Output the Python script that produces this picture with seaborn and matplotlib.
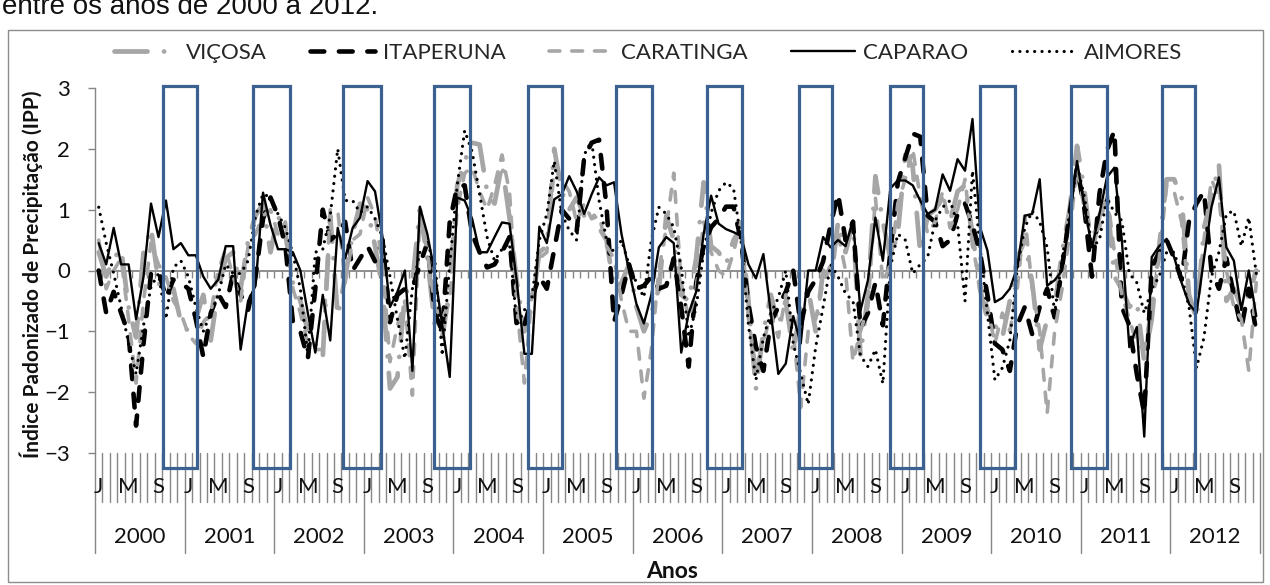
import numpy as np
import pandas as pd
import matplotlib
matplotlib.use("Agg")
import matplotlib.pyplot as plt
import matplotlib.patches as mpatches
import matplotlib.transforms as mtransforms
from matplotlib.lines import Line2D
import seaborn as sns

# ── Dados (IPP mensal, 2000-2012) ─────────────────────────────────────────────
ANOS = list(range(2000, 2013))
MES_ROTULOS = ["J", "", "", "", "M", "", "", "", "S", "", "", ""]
ESTACOES = ["VIÇOSA", "ITAPERUNA", "CARATINGA", "CAPARAO", "AIMORES"]

VICOSA = [
    0.30, -0.10, 0.20, 0.35, -0.60, -1.10, 0.30, 0.70, -0.20, -0.40, -0.30, -0.85,
    -1.00, -0.80, -0.40, -1.15, -0.30, 0.20, 0.30, -0.30, 0.50, 0.90, 1.10, 0.30,
    0.90, 0.60, -0.20, -0.50, -1.00, -1.20, -1.42, 0.90, -0.75, -0.10, 0.60, 1.10,
    1.00, 0.40, -0.30, -1.94, -1.75, -0.40, -0.20, 1.00, 0.20, -0.90, -1.10, -0.30,
    1.40, 1.80, 2.10, 2.07, 1.30, 1.10, 1.75, 0.87, -0.20, -1.00, -0.60, 0.30,
    0.40, 2.00, 1.30, 1.00, 1.20, 0.90, 1.00, 0.70, 0.50, -0.30, -0.20, 0.10,
    -0.60, -1.00, -0.70, -0.30, 0.90, 0.50, -0.40, -0.50, 0.20, 1.45, 0.40, 0.30,
    0.10, 0.50, 0.70, -0.50, -1.95, -1.00, -0.40, -0.90, -0.50, -1.35, -0.60, -0.30,
    -1.00, 0.00, -0.20, 0.80, 0.30, 0.80, -1.40, -0.40, 1.55, 0.80, 0.20, 0.60,
    1.90, 1.70, 0.30, 0.90, 1.00, 1.20, 0.80, 1.30, 1.40, 0.60, -0.30, -0.80,
    -0.90, -1.10, -0.50, 0.20, 0.50, -0.20, -1.30, -0.80, -0.60, 0.30, 1.00, 2.05,
    1.30, 0.30, 0.90, 1.20, -0.10, -0.30, -0.60, -0.50, -1.50, -0.80, 0.40, 1.50,
    1.50, 1.20, -0.40, -0.80, 0.70, 1.20, 1.75, -0.50, -0.30, -0.60, -0.40, 0.00,
]
ITAPERUNA = [
    0.00, -0.70, -0.35, -0.70, -1.05, -2.55, -1.20, -0.05, 0.00, -0.45, -0.15, -0.20,
    -0.30, -0.80, -1.42, -0.70, -0.38, -0.60, -0.05, -0.40, -0.65, -0.10, 0.85, 1.20,
    0.90, 0.40, -0.85, -1.00, -1.45, -0.30, 1.00, 0.50, 0.60, 0.80, 0.00, 0.20,
    0.40, 0.15, 0.50, -0.85, -0.40, -0.30, -0.30, 0.10, 0.45, -0.70, -1.00, 0.80,
    1.38, 1.40, 0.60, 0.30, 0.05, 0.10, 0.30, 0.55, -0.95, -0.90, -0.45, -0.10,
    -0.30, 0.35, 1.00, 0.85, 0.65, 1.85, 2.10, 2.15, 1.05, -0.85, -0.40, 0.10,
    -0.30, -0.25, -0.10, -0.30, -0.25, 0.20, -0.60, -1.58, -0.20, 0.40, 0.71, 0.85,
    1.05, 1.05, 0.50, -0.55, -1.25, -1.65, -0.85, -0.60, -0.35, 0.00, -0.90, -0.35,
    -0.15, 0.15, 0.75, 1.26, 0.50, 0.80, -0.95, -0.70, -0.20, -0.90, 0.30, 1.45,
    1.85, 2.25, 2.20, 0.90, 0.80, 0.40, 0.50, 0.93, 1.10, 0.75, 0.30, -0.40,
    -1.20, -1.30, -1.65, -0.90, -0.60, -1.05, -0.60, -0.30, -0.77, 0.05, 0.93, 1.69,
    1.00, -0.10, 1.26, 1.97, 2.30, -0.60, -0.90, -1.70, -2.35, 0.05, 0.30, 0.50,
    0.20, -0.15, 0.82, 1.10, 1.30, 0.00, -0.30, 0.20, -0.40, -0.95, -0.30, -1.00,
]
CARATINGA = [
    0.50, -0.30, 0.00, 0.20, -0.80, -1.85, -0.50, 0.45, 0.10, -0.10, -0.50, -0.70,
    -1.05, -1.20, -0.85, -0.70, 0.00, 0.35, -0.10, -0.50, 0.40, 0.60, 0.90, 1.00,
    0.60, 0.80, -0.30, -0.70, -1.20, -1.30, -1.30, 1.00, 1.00, -0.20, 0.50, 0.60,
    1.20, 0.90, 0.10, -1.50, -0.90, -0.50, -2.05, 0.90, 0.30, -0.60, -0.80, -0.50,
    1.00, 1.60, 1.70, 1.30, 1.00, 1.40, 1.90, 1.30, -0.60, -1.85, -0.40, 0.20,
    0.30, 1.70, 1.50, 1.30, 0.80, 1.10, 0.85, 0.90, 0.40, 0.20, -0.50, -1.00,
    -1.00, -2.10, -1.30, 0.00, 0.70, 1.60, -0.20, -0.80, -0.30, 0.80, 0.30, 0.00,
    -0.10, 0.30, 0.80, -0.80, -1.60, -1.20, -0.70, -1.10, -0.40, -1.00, -2.25, -1.00,
    -0.80, -0.20, 0.10, 0.60, 0.00, -1.50, -1.00, -0.60, 1.20, -0.20, 0.10, 1.10,
    1.50, 2.00, 1.20, 0.60, 0.80, 1.30, 0.70, 1.00, 1.50, 0.40, -0.20, -0.60,
    -1.20, -0.70, -1.00, -0.30, 0.90, -0.30, -1.00, -2.35, -1.00, -0.30, 0.60, 1.70,
    1.00, 0.60, 0.70, 1.30, 0.30, -0.40, -0.80, -1.20, -1.30, -0.60, 0.20, 1.40,
    1.30, 0.80, -0.50, -0.60, 0.50, 1.50, 1.20, 0.00, -0.60, -0.80, -1.65, -0.20,
]
CAPARAO = [
    0.45, 0.10, 0.70, 0.10, 0.10, -0.80, -0.10, 1.10, 0.55, 1.15, 0.35, 0.45,
    0.25, 0.25, -0.10, -0.30, -0.15, 0.40, 0.40, -1.30, -0.50, -0.25, 1.28, 0.75,
    0.35, 0.35, 0.30, 0.00, -0.70, -1.35, -0.40, -1.15, 0.70, 0.20, 0.70, 0.87,
    1.47, 1.30, 0.55, -0.60, -0.35, 0.00, -1.65, 1.05, 0.60, -0.05, -0.90, -1.75,
    1.20, 1.15, 0.85, 0.30, 0.30, 0.55, 0.79, 0.77, -0.20, -1.37, -1.37, 0.72,
    0.45, 1.17, 1.25, 1.55, 1.30, 0.93, 1.25, 1.53, 1.40, 1.45, 0.60, 0.00,
    -0.55, -0.87, -0.40, 0.38, 0.55, 0.45, -1.35, -0.70, -0.35, 0.60, 1.23, 0.77,
    0.68, 0.63, 0.57, 0.10, -0.13, 0.27, -0.70, -1.70, -1.53, -0.75, -1.20, 0.00,
    0.00, 0.55, 0.38, 0.50, 0.40, 0.82, -0.66, -0.16, 0.87, 0.16, 1.35, 1.48,
    1.48, 1.40, 1.15, 0.93, 1.00, 1.58, 1.31, 1.83, 1.64, 2.49, 0.71, 0.33,
    -0.52, -0.45, -0.30, 0.05, 0.90, 0.93, 1.50, -0.25, -0.16, 0.00, 0.82, 1.80,
    1.04, 0.38, 0.93, 1.53, 1.69, 0.50, -1.26, -0.93, -2.73, 0.22, 0.40, 0.52,
    0.22, -0.20, -0.55, -0.70, 0.20, 1.04, 1.53, 0.38, 0.16, -0.65, 0.00, -0.75,
]
AIMORES = [
    1.04, 0.45, -0.05, -0.60, -1.20, -1.70, -0.90, -0.27, -0.05, -0.80, 0.05, 0.16,
    -0.10, -0.60, -1.00, -0.70, -0.40, 0.10, -0.05, -0.05, 0.16, 0.90, 1.26, 1.20,
    0.93, 0.70, 0.27, -0.30, -1.40, 0.30, 0.35, 0.90, 2.00, 1.15, 1.15, 0.95,
    1.05, 0.85, 0.55, -0.10, -0.80, -1.45, -0.30, 0.30, 0.40, 0.20, -1.40, 0.10,
    1.40, 2.30, 1.95, 1.26, 0.55, 0.16, 0.35, 0.45, -0.90, -0.65, -0.44, 0.50,
    0.93, 1.80, 0.93, 0.66, 0.50, 1.90, 2.13, 1.15, 0.50, 0.30, 0.50, 0.10,
    -0.20, -0.44, 0.50, 1.04, 0.93, 0.71, 0.05, -1.10, -0.60, 0.30, 0.95, 1.31,
    1.45, 1.35, 0.50, -0.90, -1.80, -1.10, -0.70, -0.45, 0.00, -1.20, -1.70, -2.20,
    -1.26, -0.60, 0.10, -0.10, -0.38, -0.50, -1.40, -1.58, -1.30, -1.86, 0.05, 0.60,
    0.50, -0.05, 0.10, 0.22, 0.82, 1.04, 1.15, 0.77, -0.50, 1.64, 0.40, -0.70,
    -1.80, -1.60, -1.15, 0.05, 0.70, 0.98, 0.80, 0.38, -0.70, 0.20, 0.93, 1.75,
    1.20, 0.38, 0.50, 1.20, 0.95, 0.82, -0.05, -0.20, -0.70, -0.30, -0.10, 0.30,
    0.30, -0.10, -0.60, -1.60, -1.10, -0.10, 0.30, 0.93, 0.98, 0.40, 0.87, -0.05,
]

# caixas azuis do período chuvoso (início em meses, largura em meses)
CAIXA_INICIO = [8.56, 20.68, 32.66, 44.88, 57.50, 69.33, 81.46, 93.78, 105.93, 117.99, 130.17, 142.35]
CAIXA_LARGURA = [4.55, 4.91, 5.09, 4.82, 4.55, 4.69, 4.74, 4.42, 4.46, 4.69, 4.78, 4.51]

# ── Estilo ────────────────────────────────────────────────────────────────────
CINZA = "#A6A6A6"
PRETO = "#000000"
C_EIXO = "#868686"
AZUL = "#3B6190"
TEXTO = "#111111"

CORES = {"VIÇOSA": CINZA, "ITAPERUNA": PRETO, "CARATINGA": CINZA,
         "CAPARAO": PRETO, "AIMORES": PRETO}
LARGURAS = {"VIÇOSA": 3.4, "ITAPERUNA": 3.3, "CARATINGA": 2.6,
            "CAPARAO": 1.7, "AIMORES": 2.3}
TRACOS = {"VIÇOSA": (7, 3.5, 0.01, 3.5), "ITAPERUNA": (3.0, 3.2),
          "CARATINGA": (3.0, 3.3), "CAPARAO": "", "AIMORES": (0.01, 2.3)}

sns.set_theme(style="white")
plt.rcParams["font.family"] = ["Lato", "DejaVu Sans"]

W, H = 1270, 585
fig = plt.figure(figsize=(W / 100, H / 100), dpi=100)
ax = fig.add_axes([95 / W, 1 - 453 / H, 1165 / W, 365 / H])

n = len(CAPARAO)
df = pd.DataFrame({
    "mes": np.tile(np.arange(n), len(ESTACOES)),
    "estacao": np.repeat(ESTACOES, n),
    "ipp": np.concatenate([VICOSA, ITAPERUNA, CARATINGA, CAPARAO, AIMORES]),
})

sns.lineplot(
    data=df, x="mes", y="ipp",
    hue="estacao", style="estacao", size="estacao",
    hue_order=ESTACOES, style_order=ESTACOES, size_order=ESTACOES,
    palette=CORES, dashes=TRACOS, sizes=LARGURAS,
    estimator=None, errorbar=None, legend=False, ax=ax,
    dash_capstyle="round", solid_capstyle="round", solid_joinstyle="round",
    zorder=3,
)

# eixo horizontal em zero, com marcas entre os meses
ax.axhline(0, color=C_EIXO, lw=1.3, zorder=2)
ax.vlines(np.arange(0.5, n - 0.5, 1), -0.12, 0, color=C_EIXO, lw=1, zorder=2)

# rótulos de categoria em dois níveis (mês / ano)
trans = mtransforms.blended_transform_factory(ax.transData, ax.transAxes)
for b in range(n + 1):
    fundo = -0.274 if b % 12 == 0 else -0.134
    ax.plot([b - 0.5, b - 0.5], [0, fundo], transform=trans, color=C_EIXO,
            lw=1, clip_on=False, zorder=1)
for k, ano in enumerate(ANOS):
    for j, letra in enumerate(MES_ROTULOS):
        if letra:
            ax.text(12 * k + j, -0.093, letra, transform=trans, ha="center",
                    va="center", fontsize=16, color=TEXTO)
    ax.text(12 * k + 5.5, -0.23, str(ano), transform=trans, ha="center",
            va="center", fontsize=16, color=TEXTO)

# caixas azuis
for x0, larg in zip(CAIXA_INICIO, CAIXA_LARGURA):
    ax.add_patch(mpatches.Rectangle((x0, -3.25), larg, 6.28, fill=False,
                                    edgecolor=AZUL, lw=2.3, clip_on=False, zorder=5))

ax.set_xlim(-0.5, n - 0.5)
ax.set_ylim(-3, 3)
ax.set_xticks([])
ax.set_yticks(range(-3, 4))
ax.set_xlabel("")
ax.tick_params(axis="y", length=5, width=1, color=C_EIXO, labelsize=16,
               pad=13, labelcolor=TEXTO, left=True)
ax.spines[["top", "right", "bottom"]].set_visible(False)
ax.spines["left"].set_color(C_EIXO)
ax.spines["left"].set_linewidth(1)
ax.set_ylabel("Índice Padonizado de Precipitação (IPP)", fontsize=15,
              fontweight="bold", color=TEXTO)
ax.yaxis.set_label_coords(-0.045, 0.49)

fig.text(672 / W, 1 - 572 / H, "Anos", ha="center", va="center",
         fontsize=16.5, fontweight="bold", color=TEXTO)

# legenda
alcas = [Line2D([], [], color=CORES[e], lw=LARGURAS[e],
                linestyle="-" if TRACOS[e] == "" else (0, TRACOS[e]),
                dash_capstyle="round", solid_capstyle="round")
         for e in ESTACOES]
fig.legend(alcas, ESTACOES, loc="center", bbox_to_anchor=(648 / W, 1 - 53 / H),
           ncol=5, frameon=False, fontsize=16, handlelength=2.9,
           handletextpad=0.35, columnspacing=1.95)

# moldura do gráfico e texto do documento (cortado no topo)
fig.patches.append(mpatches.Rectangle((8 / W, 3 / H), 1255 / W, 552 / H,
                                      transform=fig.transFigure, fill=False,
                                      edgecolor="#8C8C8C", lw=1))
fig.text(2 / W, 1 - 14 / H, "entre os anos de 2000 a 2012.", ha="left",
         va="baseline", fontsize=20, family="Liberation Sans", color=TEXTO)

fig.savefig("out.png", dpi=100, facecolor="white")
